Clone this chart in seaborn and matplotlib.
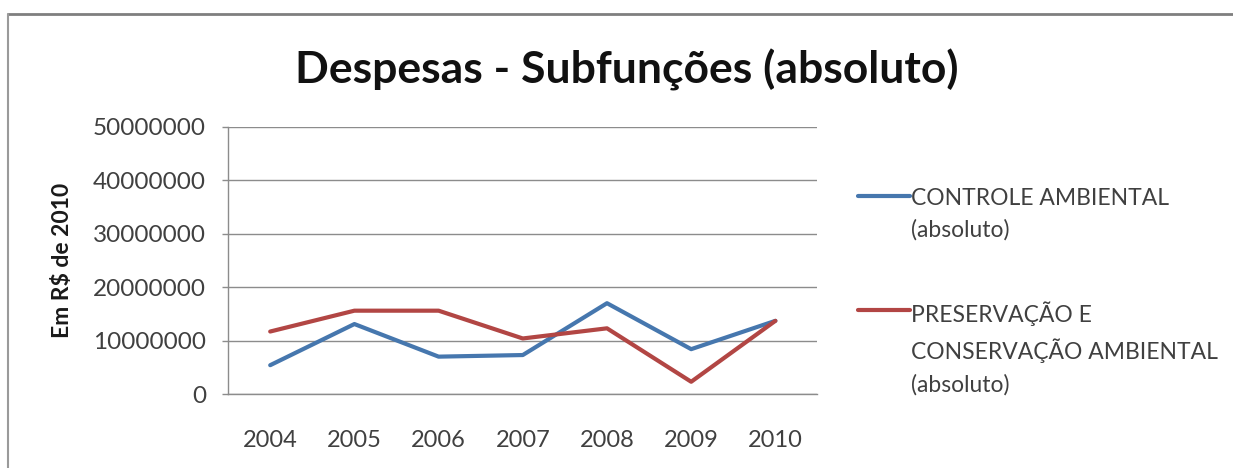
import matplotlib
matplotlib.use("Agg")
import matplotlib.pyplot as plt
from matplotlib.lines import Line2D
import seaborn as sns
import pandas as pd

years = ["2004", "2005", "2006", "2007", "2008", "2009", "2010"]
controle = [5400000, 13100000, 7000000, 7300000, 17000000, 8400000, 13700000]
preservacao = [11700000, 15600000, 15600000, 10400000, 12300000, 2300000, 13700000]
series_names = ["CONTROLE AMBIENTAL\n(absoluto)",
                "PRESERVAÇÃO E\nCONSERVAÇÃO AMBIENTAL\n(absoluto)"]
yticks = [0, 10000000, 20000000, 30000000, 40000000, 50000000]
title = "Despesas - Subfunções (absoluto)"
ylabel = "Em R$ de 2010"

colors = ["#4677AE", "#B24644"]

df = pd.DataFrame({
    "year": years * 2,
    "value": controle + preservacao,
    "series": [series_names[0]] * len(years) + [series_names[1]] * len(years),
})

sns.set_theme(style="white")
plt.rcParams["font.family"] = ["Lato", "DejaVu Sans"]

fig = plt.figure(figsize=(12.33, 4.68), dpi=100)
ax = fig.add_axes([0.185, 0.158, 0.478, 0.571])

sns.lineplot(data=df, x="year", y="value", hue="series", palette=colors,
             linewidth=3.0, ax=ax, legend=False, sort=False)

ax.set_xlim(-0.5, len(years) - 0.5)
ax.set_ylim(0, 50000000)
ax.set_yticks(yticks)
ax.set_yticklabels([str(v) for v in yticks])
ax.yaxis.grid(True, color="#8C8C8C", linewidth=1.0)
ax.set_axisbelow(True)
for s in ["top", "right"]:
    ax.spines[s].set_visible(False)
for s in ["left", "bottom"]:
    ax.spines[s].set_color("#8C8C8C")
    ax.spines[s].set_linewidth(1.0)
ax.tick_params(axis="y", which="major", left=True, length=4, width=1.0,
               color="#8C8C8C", labelsize=17.5, labelcolor="#404040", pad=12)
ax.tick_params(axis="x", which="major", bottom=False, labelsize=17,
               labelcolor="#404040", pad=20)
ax.set_xlabel("")
ax.set_ylabel(ylabel, fontsize=16.5, fontweight="bold", color="#1a1a1a", labelpad=14)

fig.text(0.508, 0.850, title, ha="center", va="center", fontsize=32,
         fontweight="bold", color="#111111")

# legend
leg_x0, leg_x1 = 858 / 1233, 910 / 1233
for ypix, col, lab in [(196, colors[0], series_names[0]),
                       (310, colors[1], series_names[1])]:
    yf = 1 - ypix / 468
    fig.add_artist(Line2D([leg_x0, leg_x1], [yf, yf], color=col, linewidth=3.0,
                          transform=fig.transFigure))
    fig.text(leg_x1 + 0.001, yf + 0.018, lab, ha="left", va="top", fontsize=16.5,
             color="#404040", linespacing=1.6)

# outer frame (screenshot border)
fig.add_artist(Line2D([8 / 1233, 1], [1 - 14 / 468, 1 - 14 / 468], color="#7F7F7F",
                      linewidth=2, transform=fig.transFigure))
fig.add_artist(Line2D([8 / 1233, 8 / 1233], [0, 1 - 14 / 468], color="#9A9A9A",
                      linewidth=1.5, transform=fig.transFigure))

fig.savefig("out.png", dpi=100)
